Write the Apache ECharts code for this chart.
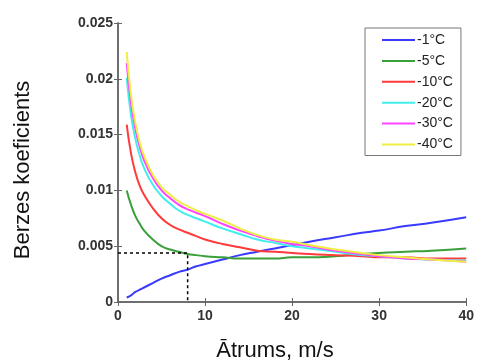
<!DOCTYPE html>
<html><head><meta charset="utf-8">
<script src="https://cdn.jsdelivr.net/npm/echarts@6/dist/echarts.min.js"></script>
<style>html,body{margin:0;padding:0;background:#fff}#c{width:477px;height:363px}</style>
</head><body><div id="c"></div>
<script>
const speeds = [1,1.5,2,2.5,3,4,5,6,7,8,9,10,12,14,16,18,20,22,25,28,30,33,36,40];
const seriesNames = ['-1°C','-5°C','-10°C','-20°C','-30°C','-40°C'];
const coefM1  = [0.0004,0.0006,0.0009,0.0011,0.0013,0.0017,0.0021,0.0024,0.0027,0.0029,0.0032,0.0034,0.0038,0.0042,0.0045,0.0048,0.0051,0.0054,0.0058,0.0062,0.0064,0.0068,0.0071,0.0076];
const coefM5  = [0.0100,0.0087,0.0077,0.0070,0.0064,0.0056,0.0050,0.0047,0.0045,0.0043,0.0042,0.0041,0.0040,0.0039,0.0039,0.0039,0.0040,0.0040,0.0041,0.0043,0.0044,0.0045,0.0046,0.0048];
const coefM10 = [0.0159,0.0133,0.0116,0.0104,0.0096,0.0084,0.0075,0.0069,0.0065,0.0062,0.0059,0.0056,0.0052,0.0049,0.0046,0.0045,0.0044,0.0043,0.0042,0.0041,0.0040,0.0040,0.0039,0.0039];
const coefM20 = [0.0201,0.0167,0.0146,0.0131,0.0120,0.0105,0.0095,0.0088,0.0082,0.0078,0.0075,0.0072,0.0066,0.0061,0.0056,0.0053,0.0050,0.0048,0.0045,0.0042,0.0041,0.0039,0.0038,0.0037];
const coefM30 = [0.0214,0.0178,0.0155,0.0139,0.0127,0.0111,0.0100,0.0093,0.0087,0.0083,0.0080,0.0077,0.0070,0.0064,0.0059,0.0055,0.0052,0.0050,0.0046,0.0043,0.0041,0.0039,0.0038,0.0036];
const coefM40 = [0.0224,0.0185,0.0160,0.0143,0.0131,0.0114,0.0103,0.0096,0.0090,0.0086,0.0082,0.0079,0.0073,0.0066,0.0060,0.0056,0.0054,0.0051,0.0047,0.0044,0.0042,0.0040,0.0038,0.0036];
const refSpeed = 8;
const refCoef = 0.0044;
const xTicks = [0,10,20,30,40];
const yTicks = [0,0.005,0.01,0.015,0.02,0.025];

const colors = ['#3a3aff','#3aa03a','#ff3a3a','#40eeee','#ff44ff','#eeee44'];
const allCoefs = [coefM1,coefM5,coefM10,coefM20,coefM30,coefM40];

const chart = echarts.init(document.getElementById('c'));
const series = allCoefs.map((arr,i)=>({
  name: seriesNames[i], type:'line', showSymbol:false, symbol:'none', smooth:true,
  data: speeds.map((s,j)=>[s,arr[j]]),
  lineStyle:{color:colors[i], width:2}, itemStyle:{color:colors[i]}, z: 3+i
}));
series.push({
  name:'ref', type:'line', symbol:'none', showSymbol:false, silent:true,
  data:[[xTicks[0],refCoef],[refSpeed,refCoef],[refSpeed,yTicks[0]]],
  lineStyle:{color:'#000', width:1.5, type:[3,3]}, z:10
});
const axisCol = '#666';
const lblStyle = {color:'#333', fontFamily:'Liberation Sans', fontWeight:'bold', fontSize:14};
chart.setOption({
  animation:false,
  grid:{left:118, right:9, top:23, bottom:61},
  legend:{
    data: seriesNames, orient:'vertical', left:365, top:28,
    itemWidth:33, itemHeight:14, itemGap:6.9,
    itemStyle:{opacity:0},
    padding:[5,8,4,16], borderColor:'#777', borderWidth:1, backgroundColor:'#fff',
    textStyle:{color:'#222', fontFamily:'Liberation Sans', fontSize:14, padding:[0,0,0,-3]}
  },
  xAxis:[{
    type:'value', min:0, max:40, interval:10,
    axisLine:{show:true, onZero:false, lineStyle:{color:axisCol, width:1.5}},
    axisTick:{show:true, inside:true, length:4, lineStyle:{color:axisCol}},
    splitLine:{show:false},
    axisLabel:Object.assign({margin:7, formatter:v=>String(v)}, lblStyle)
  },{
    type:'value', min:0, max:40, interval:10, position:'top',
    axisLine:{show:true, lineStyle:{color:axisCol, width:1.5}},
    axisTick:{show:true, inside:true, length:4, lineStyle:{color:axisCol}},
    splitLine:{show:false}, axisLabel:{show:false}
  }],
  yAxis:[{
    type:'value', min:0, max:0.025, interval:0.005,
    axisLine:{show:true, onZero:false, lineStyle:{color:axisCol, width:1.5}},
    axisTick:{show:true, inside:true, length:4, lineStyle:{color:axisCol}},
    splitLine:{show:false},
    axisLabel:Object.assign({margin:5, formatter:v=>String(+v.toFixed(3))}, lblStyle)
  },{
    type:'value', min:0, max:0.025, interval:0.005, position:'right',
    axisLine:{show:true, lineStyle:{color:axisCol, width:1.5}},
    axisTick:{show:true, inside:true, length:4, lineStyle:{color:axisCol}},
    splitLine:{show:false}, axisLabel:{show:false}
  }],
  graphic:[
    {type:'text', style:{text:'Berzes koeficients', fontFamily:'Liberation Sans', fontSize:22, fill:'#111', textAlign:'center', textVerticalAlign:'middle'}, x:23, y:170, rotation:Math.PI/2},
    {type:'text', style:{text:'Ātrums, m/s', fontFamily:'Liberation Sans', fontSize:22, fill:'#111', textAlign:'center', textVerticalAlign:'middle'}, x:275, y:351}
  ],
  series: series
});
</script></body></html>
